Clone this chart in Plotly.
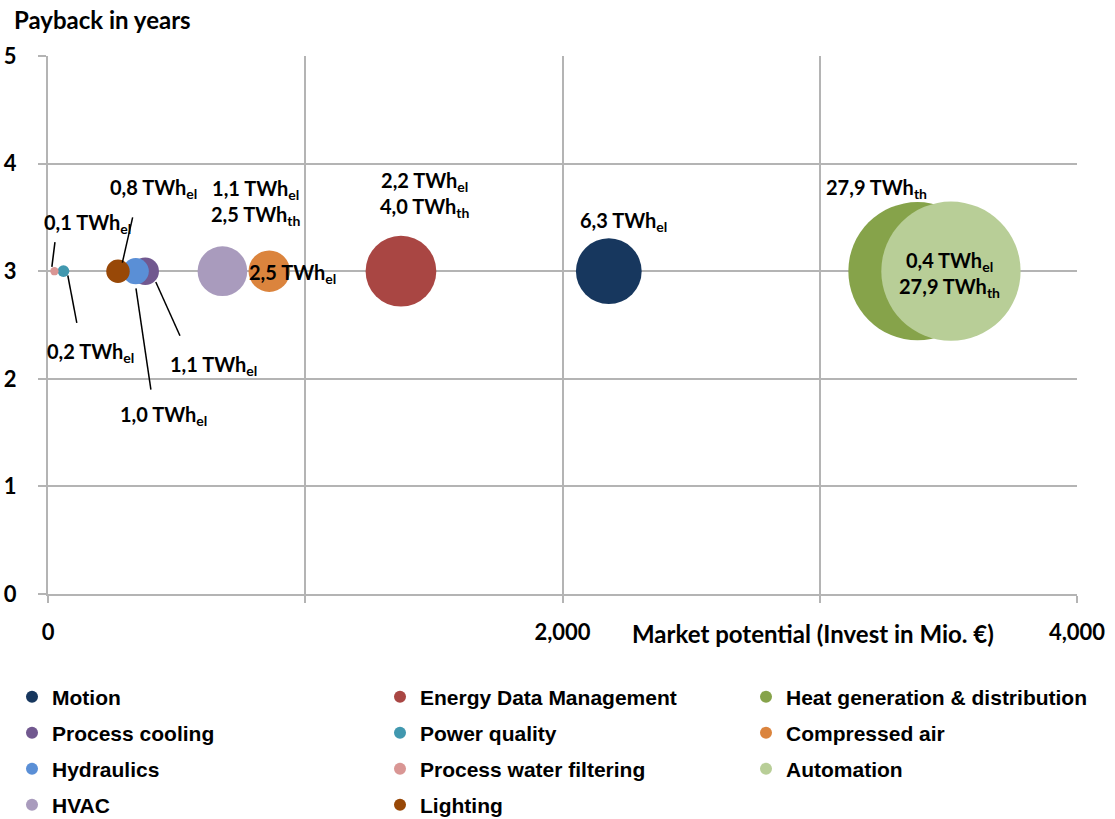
import plotly.graph_objects as go

# data (bubble area ~ savings in TWh)
categories = ["Motion", "Energy Data Management", "Heat generation & distribution",
              "Process cooling", "Power quality", "Compressed air",
              "Hydraulics", "Process water filtering", "Automation",
              "HVAC", "Lighting"]
invest = [2180, 1372, 3380, 378, 60, 860, 341, 25, 3510, 678, 272]
payback = [3, 3, 3, 3, 3, 3, 3, 3, 3, 3, 3]
savings = [6.3, 7.3, 27.9, 1.1, 0.2, 2.5, 1.0, 0.1, 28.3, 3.6, 0.8]
colors = ["#17375E", "#A94643", "#86A34A", "#71588F", "#4198AF", "#DB843D",
          "#5A8FD6", "#D99694", "#B8CE97", "#A99BBD", "#984807"]

x_ticks = [0, 1000, 2000, 3000, 4000]
x_ticktext = ["0", "", "2,000", "", "4,000"]

# bubble labels: text, x, y (data coords)
labels = [
    ("0,1 TWh<sub>el</sub>", 155, 3.44),
    ("0,8 TWh<sub>el</sub>", 412, 3.77),
    ("0,2 TWh<sub>el</sub>", 167, 2.24),
    ("1,1 TWh<sub>el</sub>", 643, 2.12),
    ("1,0 TWh<sub>el</sub>", 449, 1.66),
    ("1,1 TWh<sub>el</sub><br>2,5 TWh<sub>th</sub>", 808, 3.64),
    ("2,5 TWh<sub>el</sub>", 952, 2.98),
    ("2,2 TWh<sub>el</sub><br>4,0 TWh<sub>th</sub>", 1465, 3.71),
    ("6,3 TWh<sub>el</sub>", 2239, 3.46),
    ("27,9 TWh<sub>th</sub>", 3221, 3.77),
    ("0,4 TWh<sub>el</sub><br>27,9 TWh<sub>th</sub>", 3506, 2.97),
]
# leader lines x0, y0, x1, y1
leaders = [
    (27, 3.27, 15, 3.04),
    (329, 3.50, 289, 3.08),
    (77, 2.96, 112, 2.52),
    (419, 2.90, 513, 2.40),
    (342, 2.84, 400, 1.90),
]

FONT = "Lato"
sizeref = 2 * 2.5 / 41.4 ** 2

# legend grid: text start x / row centre y in pixels
legend_cols = [52, 420, 786]
legend_rows = [697, 733, 769, 805]

fig = go.Figure()
legends = {}
for i, cat in enumerate(categories):
    key = "legend" if i == 0 else f"legend{i + 1}"
    fig.add_trace(go.Scatter(
        x=[invest[i]], y=[payback[i]], name=cat, mode="markers",
        marker=dict(size=[savings[i]], sizemode="area", sizeref=sizeref,
                    color=colors[i], opacity=1, line=dict(width=0)),
        legend=key, showlegend=True,
    ))
    legends[key] = dict(
        orientation="h", xref="container", yref="container",
        x=(legend_cols[i % 3] - 40) / 1115, xanchor="left",
        y=1 - legend_rows[i // 3] / 819, yanchor="middle",
        itemsizing="constant", bgcolor="rgba(0,0,0,0)",
        font=dict(family="Liberation Sans", size=21, color="black", weight="bold"),
    )

for txt, lx, ly in labels:
    fig.add_annotation(x=lx, y=ly, text=txt, showarrow=False,
                       font=dict(family=FONT, size=20, color="black", weight="bold"))

for x0, y0, x1, y1 in leaders:
    fig.add_shape(type="line", x0=x0, y0=y0, x1=x1, y1=y1, xref="x", yref="y",
                  line=dict(color="black", width=1.5))

fig.add_annotation(text="Payback in years", xref="paper", yref="paper", x=-0.035, y=1.067,
                   xanchor="left", yanchor="middle", showarrow=False,
                   font=dict(family=FONT, size=24, color="black", weight="bold"))
fig.add_annotation(text="Market potential (Invest in Mio. €)", xref="paper", yref="paper",
                   x=0.743, y=-0.0743, xanchor="center", yanchor="middle", showarrow=False,
                   font=dict(family=FONT, size=24, color="black", weight="bold"))

fig.update_layout(
    width=1115, height=819,
    margin=dict(l=48, r=38, t=56, b=225),
    plot_bgcolor="white", paper_bgcolor="white",
    showlegend=True,
    **legends,
)
fig.update_xaxes(range=[0, 4000], tickvals=x_ticks, ticktext=x_ticktext,
                 showgrid=True, gridcolor="#B4B4B4", gridwidth=2,
                 showline=True, linecolor="#B4B4B4", linewidth=2,
                 ticks="outside", ticklen=7, tickcolor="#B4B4B4", tickwidth=2,
                 ticklabelstandoff=11, zeroline=False, automargin=False,
                 tickfont=dict(family=FONT, size=22, color="black", weight="bold"))
fig.update_yaxes(range=[0, 5], dtick=1,
                 showgrid=True, gridcolor="#B4B4B4", gridwidth=2,
                 showline=True, linecolor="#B4B4B4", linewidth=2,
                 ticks="outside", ticklen=8, tickcolor="#B4B4B4", tickwidth=2,
                 ticklabelstandoff=17, zeroline=False, automargin=False,
                 tickfont=dict(family=FONT, size=22, color="black", weight="bold"))

fig.write_html("out.html", config={"displayModeBar": False},
               post_script="document.body.style.margin='0';")
